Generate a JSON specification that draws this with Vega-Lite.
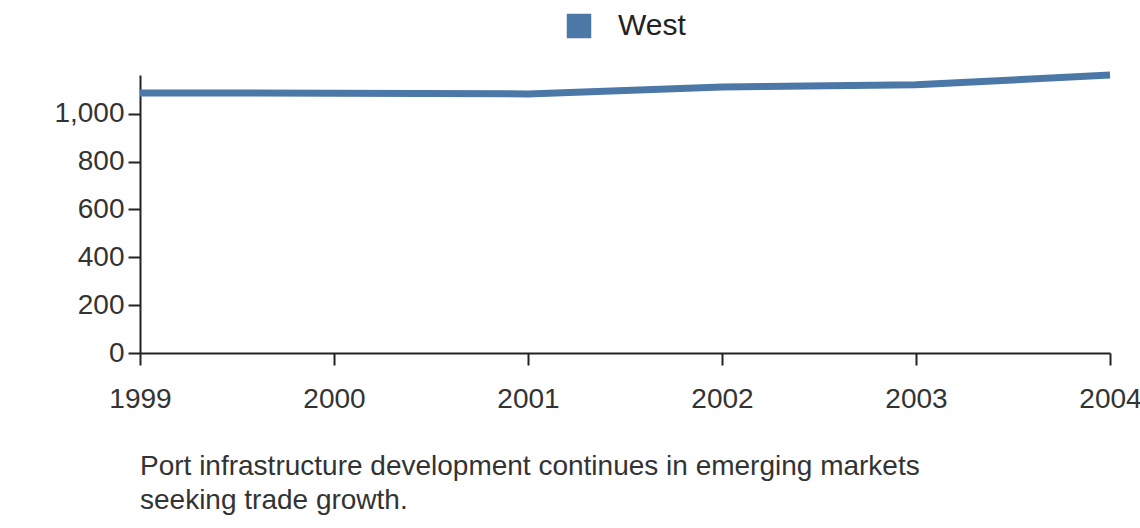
{
  "$schema": "https://vega.github.io/schema/vega-lite/v6.json",
  "autosize": "none",
  "width": 970,
  "height": 278,
  "padding": {"left": 140, "top": 75, "right": 30, "bottom": 175},
  "background": "white",
  "title": {
    "text": ["Port infrastructure development continues in emerging markets", "seeking trade growth."],
    "orient": "bottom",
    "anchor": "start",
    "frame": "group",
    "fontSize": 28,
    "font": "Liberation Sans",
    "fontWeight": "normal",
    "color": "#333333",
    "offset": 40,
    "lineHeight": 34
  },
  "data": {
    "values": [
      {"year": 1999, "value": 1087, "region": "West"},
      {"year": 2000, "value": 1086, "region": "West"},
      {"year": 2001, "value": 1083, "region": "West"},
      {"year": 2002, "value": 1112, "region": "West"},
      {"year": 2003, "value": 1121, "region": "West"},
      {"year": 2004, "value": 1162, "region": "West"}
    ]
  },
  "mark": {"type": "line", "strokeWidth": 7},
  "encoding": {
    "x": {
      "field": "year", "type": "quantitative",
      "scale": {"domain": [1999, 2004], "nice": false},
      "axis": {"format": "d", "values": [1999, 2000, 2001, 2002, 2003, 2004], "title": null,
        "labelFontSize": 28, "labelFont": "Liberation Sans", "labelColor": "#333333",
        "domainColor": "#222222", "domainWidth": 2, "tickColor": "#222222", "tickWidth": 2, "tickSize": 12,
        "labelPadding": 20, "grid": false, "labelFlush": false}
    },
    "y": {
      "field": "value", "type": "quantitative",
      "scale": {"domain": [0, 1162], "nice": false},
      "axis": {"values": [0, 200, 400, 600, 800, 1000], "title": null, "format": ",.0f",
        "labelFontSize": 28, "labelFont": "Liberation Sans", "labelColor": "#333333",
        "domainColor": "#222222", "domainWidth": 2, "tickColor": "#222222", "tickWidth": 2, "tickSize": 12,
        "labelPadding": 4, "grid": false}
    },
    "color": {
      "field": "region", "type": "nominal",
      "scale": {"range": ["#4c78a8"]},
      "legend": {"orient": "top", "title": null, "symbolType": "square", "symbolSize": 600,
        "labelFontSize": 30, "labelFont": "Liberation Sans", "labelColor": "#222222",
        "labelOffset": 24, "offset": 20, "direction": "horizontal"}
    }
  },
  "config": {
    "view": {"stroke": null},
    "legend": {"symbolOpacity": 1, "symbolStrokeWidth": 0, "symbolFillColor": "#4c78a8",
      "layout": {"top": {"anchor": "middle"}}}
  }
}
